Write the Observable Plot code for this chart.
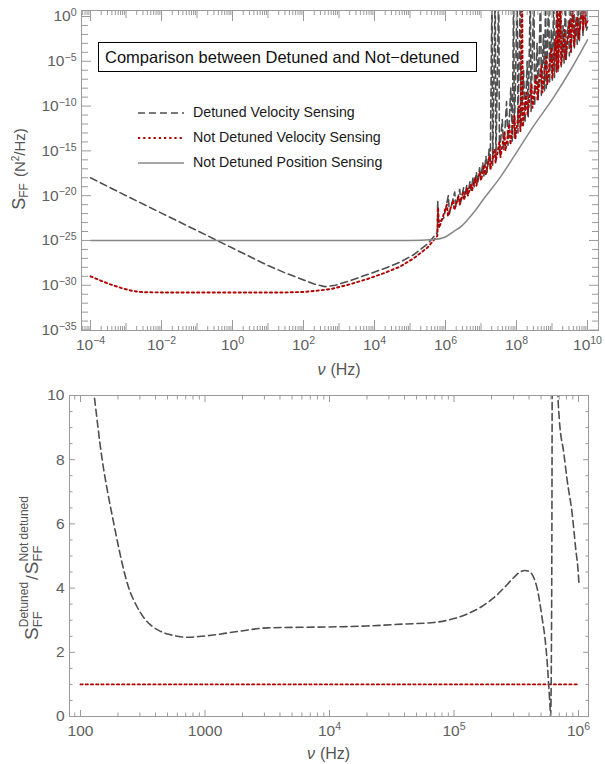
<!DOCTYPE html>
<html><head><meta charset="utf-8">
<script src="https://cdn.jsdelivr.net/npm/d3@7"></script>
<script src="https://cdn.jsdelivr.net/npm/@observablehq/plot@0.6"></script>
<style>
body{margin:0;background:#fff;font-family:"Liberation Sans",Arial,sans-serif;}
#wrap{position:relative;width:605px;height:764px;overflow:hidden;}
#wrap > svg{display:block;}
.tbox{position:absolute;left:98px;top:42px;width:371px;height:28px;border:1px solid #000;font-size:16.5px;line-height:28px;padding-left:6px;box-sizing:content-box;color:#111;white-space:nowrap;}
.leg{position:absolute;left:138px;font-size:14.2px;color:#1a1a1a;white-space:nowrap;height:20px;line-height:20px;}
#wrap .leg svg{display:inline-block;vertical-align:middle;margin-right:9px;}
</style></head><body><div id="wrap"></div>
<script>
// ===== Top panel data (log10 of ν in Hz, log10 of S_FF in N²/Hz) =====
const detLowNuExp = [-4, -3, -2, -1, 0, 1, 1.5, 2, 2.3, 2.6, 2.9, 3.3, 3.8, 4.3, 4.73, 5.1, 5.49, 5.77];
const detLowSExp  = [-18.0, -20.0, -21.95, -23.9, -25.85, -27.8, -28.65, -29.4, -29.85, -30.15, -30.0, -29.5, -28.8, -28.1, -27.4, -26.6, -25.4, -24.1];
const detHiNuExp = [5.78,5.80,5.95,6.08,6.11,6.26,6.29,6.40,6.43,6.51,6.54,6.60,6.63,6.69,6.72,6.78,6.81,6.87,6.90,6.96,6.99,7.05,7.08,7.14,7.17,7.23,7.26,
  7.31,7.33,7.40,7.42,7.50,7.52,7.60,7.64,7.72,7.76,7.84,7.88,7.92,7.94,8.02,8.04,8.11,8.13,8.20,8.24,8.30,8.33,8.39,8.41,8.49,8.51,8.58,8.61,8.68,8.70,8.76,8.79,8.82,8.84,8.91,8.93,8.98,9.01,9.05,9.07,9.15,9.17,9.24,9.26,9.31,9.34,9.38,9.40,9.46,9.49,9.52,9.54,9.61,9.63,9.68,9.71,9.75,9.77,9.85,9.87,9.94,9.96,10.0];
const detHiSExp = [-20.6,-23.0,-22.5,-20.0,-22.0,-19.6,-21.2,-19.3,-20.7,-19.1,-20.2,-18.8,-19.8,-18.4,-19.4,-17.9,-19.0,-17.4,-18.6,-16.9,-18.2,-16.3,-17.8,-15.6,-17.4,-14.8,-17.0,
  3,-16.6,3,-16.1,3,-15.5,-11.5,-15.0,-9.5,-14.4,-8.0,-13.9,3,-13.6,3,-13.0,3,-12.4,-6,-11.9,-5,-11.2,3,-10.6,3,-10.0,-3,-9.4,3,-8.8,-2,-8.3,3,-8.0,3,-7.5,-1.5,-7.1,3,-6.8,3,-6.2,3,-5.6,-1,-5.2,3,-4.8,-0.5,-4.4,3,-4.0,3,-3.5,0,-3.1,3,-2.7,3,-2.2,3,-1.6,-1.2];

const notDetLowNuExp = [-4, -3.7, -3.44, -3.1, -2.8, -2.5, -2, -1, 0, 1, 1.5, 2, 2.4, 2.8, 3.3, 3.8, 4.3, 4.73, 5.1, 5.49, 5.77];
const notDetLowSExp  = [-29.0, -29.5, -29.9, -30.35, -30.65, -30.78, -30.8, -30.8, -30.8, -30.8, -30.8, -30.75, -30.6, -30.4, -29.9, -29.3, -28.6, -27.9, -27.0, -25.8, -24.5];
const notDetHiNuExp = [5.79,5.82,6.04,6.07,6.22,6.25,6.37,6.40,6.49,6.52,6.60,6.63,6.72,6.75,6.84,6.87,6.97,7.00,7.10,7.13,7.24,7.27,7.38,7.41,7.52,7.55,7.66,7.69,7.80,7.83,7.94,7.97,8.08,8.11,8.16,8.18,8.28,8.31,8.42,8.45,8.56,8.59,8.70,8.73,8.84,8.87,8.98,9.01,9.10,9.13,9.16,9.18,9.24,9.26,9.35,9.38,9.50,9.53,9.60,9.62,9.72,9.75,9.86,9.88,9.93,9.95,10.0];
const notDetHiSExp = [-21.3,-23.6,-21.0,-22.3,-20.5,-21.6,-20.1,-21.0,-19.7,-20.5,-19.2,-20.0,-18.7,-19.4,-18.0,-18.9,-17.3,-18.3,-16.5,-17.7,-15.6,-17.0,-14.8,-16.3,-14.0,-15.7,-13.0,-15.0,-12.0,-14.3,-11.0,-13.6,-10,-12.8,3,-12.3,-8.5,-11.0,-7.5,-10.2,-6.5,-9.3,-5.5,-8.5,-4.5,-7.6,-3.5,-6.9,-2.5,-6.2,3,-5.9,3,-5.4,-1.5,-4.8,-0.5,-3.9,3,-3.3,0,-2.5,1,-1.6,3,-1.0,-0.5];

const posNuExp = [-4, 0, 4, 5, 5.66, 5.94, 6.23, 6.45, 6.62, 6.85, 7.07, 7.55, 8.03, 8.45, 9.05, 9.52, 10.0];
const posSExp  = [-25, -25, -25, -25, -24.9, -24.7, -24.0, -23.4, -22.7, -21.6, -20.4, -17.9, -15.0, -12.4, -9.0, -6.0, -2.6];

const topXTickExp = [-4, -2, 0, 2, 4, 6, 8, 10];
const topYTickExp = [0, -5, -10, -15, -20, -25, -30, -35];

// ===== Bottom panel data (log10 ν, ratio) =====
const ratioLeftNuExp = [2.0, 2.05, 2.11, 2.174, 2.22, 2.268, 2.31, 2.348, 2.388, 2.45, 2.51, 2.56, 2.62, 2.70, 2.78, 2.86, 2.95, 3.05, 3.23, 3.50, 3.77, 4.0, 4.3, 4.6, 4.84, 5.0, 5.11, 5.22, 5.32, 5.40, 5.48, 5.53, 5.57, 5.61, 5.64, 5.67, 5.69, 5.71, 5.73, 5.75, 5.76, 5.77, 5.776, 5.782, 5.788, 5.792];
const ratioLeft      = [14, 12, 10, 8, 6.95, 6, 5.2, 4.55, 4.0, 3.45, 3.07, 2.86, 2.7, 2.57, 2.5, 2.47, 2.49, 2.53, 2.63, 2.76, 2.78, 2.79, 2.82, 2.88, 2.93, 3.05, 3.2, 3.42, 3.7, 4.0, 4.33, 4.5, 4.55, 4.5, 4.33, 3.95, 3.52, 3.0, 2.46, 1.6, 1.0, 0.4, 0.02, 2, 10, 30];
const ratioRightNuExp = [5.823, 5.828, 5.835, 5.845, 5.882, 5.909, 5.949, 5.976, 6.0, 6.003];
const ratioRight      = [40, 12, 10.0, 9.3, 8.2, 7.35, 6.31, 5.27, 4.35, 4.15];
const unityNuExp = [2, 6];
const unityRatio = [1, 1];
const botXTickExp = [2, 3, 4, 5, 6];
const botXTickLabels = ["100", "1000", "10^4", "10^5", "10^6"];
const botYTicks = [0, 2, 4, 6, 8, 10];

// ===== styling =====
const FONT = '"Liberation Sans", Arial, sans-serif';
const frameColor = "#9a9a9a";
const labelColor = "#606060";
const dashColor = "#4f4f4f";
const redColor = "#b00000";
const solidColor = "#878787";
const MINUS = "\u2212";
const fmtExp = e => "10^" + (e < 0 ? MINUS + Math.abs(e) : String(e));

const rows = (xs, ys, f = v => 10 ** v) => xs.map((e, i) => ({nu: 10 ** e, s: f(ys[i])}));
const detuned = rows(detLowNuExp.concat(detHiNuExp), detLowSExp.concat(detHiSExp));
const notDet = rows(notDetLowNuExp.concat(notDetHiNuExp), notDetLowSExp.concat(notDetHiSExp));
const pos = rows(posNuExp, posSExp);

function supify(svg) {
  d3.select(svg).selectAll("text").each(function () {
    const m = /^10\^(.+)$/.exec(this.textContent);
    if (!m) return;
    const t = d3.select(this);
    t.text("10");
    t.append("tspan").attr("dy", "-0.5em").attr("font-size", "0.68em").text(m[1]);
  });
}
function richLabel(svg, cols, cx, cy, rot) {
  const g = d3.select(svg).append("g").attr("fill", "#555").attr("font-family", FONT).attr("text-anchor", "start");
  let x = 0;
  for (const col of cols) {
    let w = 0;
    for (const p of col.items) {
      const t = g.append("text").attr("x", x).attr("y", p.shift || 0).attr("text-anchor", "start")
        .attr("font-size", p.size).attr("font-style", p.italic ? "italic" : null).text(p.t);
      w = Math.max(w, t.node().getComputedTextLength());
    }
    x += w + (col.gap || 0);
  }
  g.attr("transform", `translate(${cx},${cy}) rotate(${rot}) translate(${-x / 2},0)`);
}

const wrap = document.getElementById("wrap");

// ---------- Top chart ----------
{
  const xMajor = topXTickExp.map(e => 10 ** e);
  const xMid = [-3, -1, 1, 3, 5, 7, 9].map(e => 10 ** e);
  const xMinor = [];
  for (let e = -5; e <= 10; e++) for (let m = 2; m <= 9; m++) { const v = m * 10 ** e; if (v > 10 ** -4.25 && v < 10 ** 10.3) xMinor.push(v); }
  const yMajor = topYTickExp.map(e => 10 ** e);
  const yMinor = d3.range(-35, 1).filter(e => e % 5 !== 0).map(e => 10 ** e);
  const tk = {stroke: frameColor, fill: "none", label: null};
  const chart = Plot.plot({
    width: 605, height: 380,
    marginTop: 10, marginRight: 7, marginBottom: 50, marginLeft: 81,
    style: {fontFamily: FONT, fontSize: "15.5px", color: labelColor, background: "#fff"},
    x: {type: "log", domain: [10 ** -4.254, 10 ** 10.31]},
    y: {type: "log", domain: [10 ** -35.05, 10 ** 0.67]},
    marks: [
      Plot.line(detuned, {x: "nu", y: "s", stroke: dashColor, strokeWidth: 1.6, strokeDasharray: "7,4", clip: true}),
      Plot.line(notDet, {x: "nu", y: "s", stroke: redColor, strokeWidth: 1.9, strokeDasharray: "2.2,3", clip: true}),
      Plot.line(pos, {x: "nu", y: "s", stroke: solidColor, strokeWidth: 1.5, curve: "monotone-x", clip: true}),
      Plot.frame({stroke: frameColor}),
      Plot.axisX(xMajor, {anchor: "bottom", tickSize: -10, ...tk}),
      Plot.axisX(xMajor, {anchor: "top", tickSize: -10, ...tk}),
      Plot.axisX(xMid, {anchor: "bottom", tickSize: -7, ...tk}),
      Plot.axisX(xMid, {anchor: "top", tickSize: -7, ...tk}),
      Plot.axisX(xMinor, {anchor: "bottom", tickSize: -4, ...tk}),
      Plot.axisX(xMinor, {anchor: "top", tickSize: -4, ...tk}),
      Plot.axisY(yMajor, {anchor: "left", tickSize: -10, ...tk}),
      Plot.axisY(yMajor, {anchor: "right", tickSize: -10, ...tk}),
      Plot.axisY(yMinor, {anchor: "left", tickSize: -7, ...tk}),
      Plot.axisY(yMinor, {anchor: "right", tickSize: -7, ...tk}),
      Plot.axisX(xMajor, {anchor: "bottom", tickSize: 0, tickPadding: 8, fill: labelColor, label: null, tickFormat: d => fmtExp(Math.round(Math.log10(d)))}),
      Plot.axisY(yMajor, {anchor: "left", tickSize: 0, tickPadding: 5, fill: labelColor, label: null, tickFormat: d => fmtExp(Math.round(Math.log10(d)))})
    ]
  });
  wrap.appendChild(chart);
  supify(chart);
  richLabel(chart, [
    {items: [{t: "S", size: 18}]},
    {items: [{t: "FF", size: 12, shift: 3}], gap: 6},
    {items: [{t: "(N", size: 15}]},
    {items: [{t: "2", size: 10, shift: -6}]},
    {items: [{t: "/Hz)", size: 15}]}
  ], 25, 169, -90);
  richLabel(chart, [
    {items: [{t: "ν", size: 16, italic: true}], gap: 5},
    {items: [{t: "(Hz)", size: 16}]}
  ], 339, 375, 0);
}

// ---------- Bottom chart ----------
{
  const xMajor = botXTickExp.map(e => 10 ** e);
  const xMinor = [];
  for (let e = 1; e <= 6; e++) for (let m = 2; m <= 9; m++) { const v = m * 10 ** e; if (v > 82 && v < 1.2e6) xMinor.push(v); }
  const yMinor = d3.range(0.5, 10, 0.5).filter(v => v % 2 !== 0);
  const tk = {stroke: frameColor, fill: "none", label: null};
  const ratioRows = rows(ratioLeftNuExp, ratioLeft, v => v).map(d => ({...d, k: "L"}))
    .concat(rows(ratioRightNuExp, ratioRight, v => v).map(d => ({...d, k: "R"})));
  const unity = rows(unityNuExp, unityRatio, v => v);
  const chart = Plot.plot({
    width: 605, height: 384,
    marginTop: 15, marginRight: 17, marginBottom: 48, marginLeft: 69,
    style: {fontFamily: FONT, fontSize: "15.5px", color: labelColor, background: "#fff"},
    x: {type: "log", domain: [10 ** 1.9116, 10 ** 6.08]},
    y: {domain: [0, 10]},
    marks: [
      Plot.line(unity, {x: "nu", y: "s", stroke: redColor, strokeWidth: 1.9, strokeDasharray: "2.2,3"}),
      Plot.line(ratioRows, {x: "nu", y: "s", z: "k", stroke: dashColor, strokeWidth: 1.6, strokeDasharray: "7,4", curve: "monotone-x", clip: true}),
      Plot.frame({stroke: frameColor}),
      Plot.axisX(xMajor, {anchor: "bottom", tickSize: -6, ...tk}),
      Plot.axisX(xMajor, {anchor: "top", tickSize: -6, ...tk}),
      Plot.axisX(xMinor, {anchor: "bottom", tickSize: -3.5, ...tk}),
      Plot.axisX(xMinor, {anchor: "top", tickSize: -3.5, ...tk}),
      Plot.axisY(botYTicks, {anchor: "left", tickSize: -6, ...tk}),
      Plot.axisY(botYTicks, {anchor: "right", tickSize: -6, ...tk}),
      Plot.axisY(yMinor, {anchor: "left", tickSize: -3.5, ...tk}),
      Plot.axisY(yMinor, {anchor: "right", tickSize: -3.5, ...tk}),
      Plot.axisX(xMajor, {anchor: "bottom", tickSize: 0, tickPadding: 8, fill: labelColor, label: null, tickFormat: d => botXTickLabels[botXTickExp.indexOf(Math.round(Math.log10(d)))]}),
      Plot.axisY(botYTicks, {anchor: "left", tickSize: 0, tickPadding: 5, fill: labelColor, label: null, tickFormat: d => String(d)})
    ]
  });
  wrap.appendChild(chart);
  supify(chart);
  richLabel(chart, [
    {items: [{t: "S", size: 19}]},
    {items: [{t: "FF", size: 13, shift: 4}, {t: "Detuned", size: 12, shift: -10}], gap: 2},
    {items: [{t: "/", size: 17}], gap: 1},
    {items: [{t: "S", size: 19}]},
    {items: [{t: "FF", size: 13, shift: 4}, {t: "Not detuned", size: 12, shift: -10}]}
  ], 38, 568 - 380, -90);
  richLabel(chart, [
    {items: [{t: "ν", size: 16, italic: true}], gap: 5},
    {items: [{t: "(Hz)", size: 16}]}
  ], 328.5, 379, 0);
}

// ---------- Legend (overlay on top chart) ----------
{
  const box = document.createElement("div");
  box.className = "tbox";
  box.textContent = "Comparison between Detuned and Not\u2212detuned";
  wrap.appendChild(box);
  const items = [
    {label: "Detuned Velocity Sensing", color: dashColor, dash: "7,4", w: 1.6, top: 102},
    {label: "Not Detuned Velocity Sensing", color: redColor, dash: "2.2,3", w: 1.9, top: 127},
    {label: "Not Detuned Position Sensing", color: solidColor, dash: null, w: 1.5, top: 152}
  ];
  for (const it of items) {
    const d = document.createElement("div");
    d.className = "leg";
    d.style.top = it.top + "px";
    d.innerHTML = `<svg width="46" height="6"><line x1="0" y1="3" x2="46" y2="3" stroke="${it.color}" stroke-width="${it.w}" ${it.dash ? `stroke-dasharray="${it.dash}"` : ""}/></svg>`;
    d.appendChild(document.createTextNode(it.label));
    wrap.appendChild(d);
  }
}
</script></body></html>
